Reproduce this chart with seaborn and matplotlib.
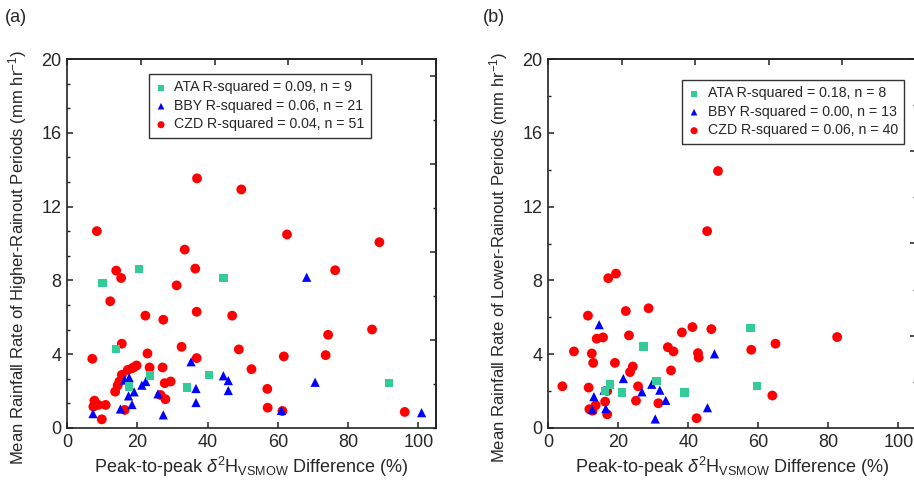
import numpy as np
import pandas as pd
import matplotlib
matplotlib.use("Agg")
import matplotlib.pyplot as plt
from matplotlib.ticker import MultipleLocator, NullFormatter
import seaborn as sns

# ---------------- data: panel (a) higher-rainout periods ----------------
a_ata_x = [10.1, 20.5, 44.6, 14.0, 23.6, 40.4, 34.2, 17.7, 91.6]
a_ata_y = [7.86, 8.62, 8.12, 4.29, 2.84, 2.88, 2.21, 2.25, 2.45]

a_bby_x = [68.2, 70.6, 100.9, 35.3, 17.7, 21.3, 22.4, 19.1, 17.5, 25.9, 18.5,
           15.2, 7.4, 27.4, 36.7, 36.7, 44.5, 45.9, 45.9, 61.0, 16.4]
a_bby_y = [8.17, 2.48, 0.83, 3.59, 2.73, 2.32, 2.52, 1.96, 1.74, 1.85, 1.27,
           1.03, 0.78, 0.71, 2.14, 1.38, 2.83, 2.57, 2.03, 0.95, 2.60]

a_czd_x = [33.5, 14.0, 15.4, 36.5, 31.2, 12.3, 22.3, 27.4, 36.9, 47.0, 15.6,
           7.2, 22.9, 32.6, 36.9, 48.9, 52.5, 57.0, 57.1, 88.9, 76.3, 74.3,
           86.8, 61.7, 73.6, 61.3, 96.1, 62.6, 37.0, 49.6, 8.5,
           13.7, 14.4, 14.9, 15.6, 17.3, 18.5, 19.1, 19.8,
           23.5, 27.2, 27.8, 29.5, 26.6, 28.0, 7.8, 7.5, 8.9, 11.0, 9.9, 16.4]
a_czd_y = [9.67, 8.53, 8.13, 8.64, 7.73, 6.87, 6.09, 5.87, 6.30, 6.09, 4.57,
           3.75, 4.04, 4.40, 3.79, 4.26, 3.19, 2.12, 1.10, 10.07, 8.55, 5.05,
           5.34, 3.88, 3.95, 0.92, 0.87, 10.49, 13.53, 12.93, 10.67,
           1.97, 2.30, 2.52, 2.88, 3.15, 3.24, 3.30, 3.39,
           3.28, 3.28, 2.43, 2.52, 1.79, 1.56, 1.48, 1.16, 1.25, 1.25, 0.47, 0.98]

# ---------------- data: panel (b) lower-rainout periods ----------------
b_ata_x = [17.7, 16.3, 21.1, 27.3, 31.0, 38.9, 57.8, 59.6]
b_ata_y = [2.37, 2.00, 1.92, 4.42, 2.55, 1.92, 5.42, 2.28]

b_bby_x = [14.6, 13.1, 16.5, 21.5, 26.8, 29.6, 31.9, 33.6, 30.6, 45.5, 47.5, 16.0, 12.6]
b_bby_y = [5.60, 1.70, 1.05, 2.68, 1.96, 2.37, 2.05, 1.50, 0.49, 1.10, 4.02, 2.05, 1.00]

b_czd_x = [17.2, 19.4, 11.4, 22.2, 28.7, 7.4, 12.5, 13.9, 15.7, 23.1, 12.9,
           19.1, 24.2, 23.4, 4.1, 11.6, 16.9, 25.7, 16.3, 13.6, 11.8, 12.7,
           16.9, 25.1, 31.5, 34.2, 35.8, 35.1, 38.2, 41.2, 42.8, 43.0, 46.6,
           42.4, 48.5, 45.4, 58.0, 64.9, 82.5, 64.0]
b_czd_y = [8.12, 8.37, 6.09, 6.34, 6.49, 4.15, 4.04, 4.84, 4.91, 5.02, 3.53,
           3.53, 3.33, 3.03, 2.26, 2.19, 2.01, 2.26, 1.43, 1.23, 1.02, 0.94,
           0.74, 1.48, 1.34, 4.38, 4.15, 3.12, 5.18, 5.47, 4.06, 3.82, 5.36,
           0.53, 13.93, 10.67, 4.24, 4.57, 4.93, 1.76]

a_labels = ["ATA R-squared = 0.09, n = 9",
            "BBY R-squared = 0.06, n = 21",
            "CZD R-squared = 0.04, n = 51"]
b_labels = ["ATA R-squared = 0.18, n = 8",
            "BBY R-squared = 0.00, n = 13",
            "CZD R-squared = 0.06, n = 40"]

x_ticks = [0, 20, 40, 60, 80, 100]
y_ticks = [0, 4, 8, 12, 16, 20]
xlabel = r"Peak-to-peak $\mathit{\delta}^{2}$H$_{\mathrm{VSMOW}}$ Difference (%)"
ylabel_a = r"Mean Rainfall Rate of Higher-Rainout Periods (mm hr$^{-1}$)"
ylabel_b = r"Mean Rainfall Rate of Lower-Rainout Periods (mm hr$^{-1}$)"

# ---------------- style ----------------
sns.set_style("ticks")
plt.rcParams['font.family'] = ['Liberation Sans', 'DejaVu Sans']
plt.rcParams['mathtext.fontset'] = 'custom'
plt.rcParams['mathtext.rm'] = 'Liberation Sans'
plt.rcParams['mathtext.it'] = 'Liberation Sans:italic'
plt.rcParams['mathtext.bf'] = 'Liberation Sans:bold'

C_ATA = "#33CC99"
C_BBY = "#0000FF"
C_CZD = "#FF0000"
SPINE = "#222222"

fig = plt.figure(figsize=(9.14, 4.83), dpi=100)
W, H = 914, 483


def make_axes(left_px, right_px):
    return fig.add_axes([left_px / W, (H - 428) / H,
                         (right_px - left_px) / W, (428 - 59) / H])


def draw_panel(ax, ata, bby, czd, labels, ylabel, left_minor, right_div,
               leg_anchor):
    sns.scatterplot(x=czd[0], y=czd[1], ax=ax, marker="o", s=50,
                    color=C_CZD, edgecolor="none", linewidth=0, zorder=3,
                    label=labels[2])
    sns.scatterplot(x=bby[0], y=bby[1], ax=ax, marker="^", s=44,
                    color=C_BBY, edgecolor="none", linewidth=0, zorder=4,
                    label=labels[1])
    sns.scatterplot(x=ata[0], y=ata[1], ax=ax, marker="s", s=38,
                    color=C_ATA, edgecolor="none", linewidth=0, zorder=5,
                    label=labels[0])
    ax.set_xlim(0, 105)
    ax.set_ylim(0, 20)
    ax.set_xticks(x_ticks)
    ax.set_yticks(y_ticks)
    ax.yaxis.set_minor_locator(MultipleLocator(left_minor))
    ax.tick_params(axis="both", which="major", direction="in", length=4.5,
                   width=1.1, labelsize=13, color=SPINE, pad=4,
                   top=False, right=False)
    ax.tick_params(axis="y", which="minor", direction="in", length=2.5,
                   width=1.0, color=SPINE, right=False)
    ax.set_xlabel(xlabel, fontsize=13, labelpad=3)
    ax.set_ylabel(ylabel, fontsize=12)
    ax.yaxis.set_label_coords(-0.103, 0.462)
    for sp in ax.spines.values():
        sp.set_visible(True)
        sp.set_linewidth(1.2)
        sp.set_color(SPINE)
    # top ticks (5 intervals) and right ticks
    sec_x = ax.secondary_xaxis("top", functions=(lambda v: v / 21.0,
                                                 lambda v: v * 21.0))
    sec_x.set_xticks([0, 1, 2, 3, 4, 5])
    sec_x.xaxis.set_major_formatter(NullFormatter())
    sec_x.tick_params(direction="in", length=4.5, width=1.1, color=SPINE)
    sec_x.spines["top"].set_linewidth(1.2)
    sec_x.spines["top"].set_color(SPINE)
    sec_y = ax.secondary_yaxis("right", functions=(lambda v: v / right_div,
                                                   lambda v: v * right_div))
    sec_y.set_yticks([1, 2, 3, 4])
    sec_y.yaxis.set_minor_locator(MultipleLocator(0.5))
    sec_y.yaxis.set_major_formatter(NullFormatter())
    sec_y.yaxis.set_minor_formatter(NullFormatter())
    sec_y.tick_params(which="major", direction="in", length=4.5, width=1.1,
                      color=SPINE)
    sec_y.tick_params(which="minor", direction="in", length=2.5, width=1.0,
                      color=SPINE)
    sec_y.spines["right"].set_linewidth(1.2)
    sec_y.spines["right"].set_color(SPINE)

    handles, labs = ax.get_legend_handles_labels()
    order = [labs.index(l) for l in labels]
    leg = ax.legend([handles[i] for i in order], [labs[i] for i in order],
                    loc="upper left", bbox_to_anchor=leg_anchor,
                    fontsize=10.2, frameon=True, fancybox=False,
                    edgecolor="#333333", framealpha=1, borderpad=0.45,
                    labelspacing=0.32, handlelength=0.8, handletextpad=0.55,
                    borderaxespad=0, markerscale=0.72)
    leg.get_frame().set_linewidth(1.0)
    leg.set_zorder(10)


ax_a = make_axes(67, 436)
draw_panel(ax_a, (a_ata_x, a_ata_y), (a_bby_x, a_bby_y), (a_czd_x, a_czd_y),
           a_labels, ylabel_a, 4 / 3, 4.77,
           ((149 - 67) / 369, (428 - 74) / 369))

ax_b = make_axes(548, 916)
draw_panel(ax_b, (b_ata_x, b_ata_y), (b_bby_x, b_bby_y), (b_czd_x, b_czd_y),
           b_labels, ylabel_b, 2, 5.0,
           ((682 - 548) / 368, (428 - 80) / 369))

fig.text(5 / W, 1 - 18 / H, "(a)", fontsize=13, va="center", ha="left")
fig.text(483 / W, 1 - 18 / H, "(b)", fontsize=13, va="center", ha="left")

fig.savefig("out.png", dpi=100)
